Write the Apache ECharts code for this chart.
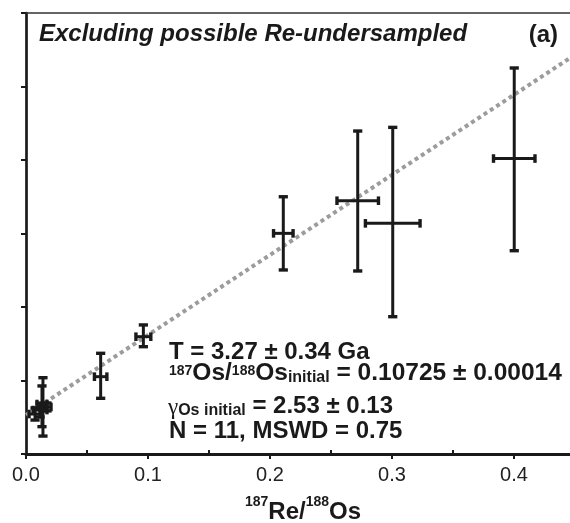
<!DOCTYPE html>
<html>
<head>
<meta charset="utf-8">
<script src="https://cdn.jsdelivr.net/npm/echarts@6/dist/echarts.min.js"></script>
<style>html,body{margin:0;padding:0;background:#fff;}#c{width:570px;height:523px;}</style>
</head>
<body>
<div id="c"></div>
<script>
// 187Re/188Os values and x errors (±)
const reX    = [0.0074, 0.0115, 0.0172, 0.0139, 0.0131, 0.0612, 0.0962, 0.2109, 0.2719, 0.3006, 0.4002];
const reXErr = [0.0049, 0.0057, 0.0033, 0.0025, 0.0041, 0.0051, 0.0061, 0.0080, 0.0170, 0.0224, 0.0170];
// 187Os/188Os values with lower / upper error limits
const osY     = [0.10772, 0.10799, 0.10820, 0.10813, 0.10840, 0.11026, 0.11298, 0.12001, 0.12223, 0.12069, 0.12510];
const osYLow  = [0.10731, 0.10752, 0.10793, 0.10622, 0.10686, 0.10879, 0.11230, 0.11752, 0.11745, 0.11434, 0.11883];
const osYHigh = [0.10813, 0.10846, 0.10847, 0.11019, 0.10963, 0.11185, 0.11378, 0.12250, 0.12697, 0.12722, 0.13126];
// isochron line end points
const lineX = [0, 0.45];
const lineY = [0.10765, 0.13216];
// axis ticks
const xTicks = [0.0, 0.1, 0.2, 0.3, 0.4];

const FONT = "'Liberation Sans', Arial, Helvetica, sans-serif";
const INK = '#1a1a1a';

const pts = reX.map((x, i) => [x, osY[i], reXErr[i], osYLow[i], osYHigh[i]]);

const chart = echarts.init(document.getElementById('c'), null, {renderer: 'canvas'});

function mainRich(size) {
  const s = size || 24;
  return {
    m: {fontFamily: FONT, fontSize: s, fontWeight: 'bold', color: INK, lineHeight: 26},
    sup: {fontFamily: FONT, fontSize: 14, fontWeight: 'bold', color: INK, height: 23, verticalAlign: 'top'},
    sub: {fontFamily: FONT, fontSize: 16, fontWeight: 'bold', color: INK, verticalAlign: 'bottom'},
    sub3: {fontFamily: FONT, fontSize: 16, fontWeight: 'bold', color: INK, verticalAlign: 'bottom'},
    g: {fontFamily: "'Liberation Serif', 'DejaVu Serif', serif", fontSize: 23, fontWeight: 'normal', color: INK, verticalAlign: 'bottom'}
  };
}

const option = {
  animation: false,
  backgroundColor: '#ffffff',
  grid: {left: 26, right: -66, top: 13, bottom: 69, containLabel: false, outerBoundsMode: 'none'},
  title: [
    {text: 'Excluding possible Re-undersampled', left: 39, top: 21, padding: 0,
     textStyle: {fontFamily: FONT, fontSize: 24, fontWeight: 'bold', fontStyle: 'italic', color: INK, lineHeight: 26}},
    {text: '(a)', right: 12, top: 22, padding: 0,
     textStyle: {fontFamily: FONT, fontSize: 24, fontWeight: 'bold', color: INK, lineHeight: 26}},
    {text: '{m|T = 3.27 ± 0.34 Ga}', left: 169, top: 339, padding: 0,
     textStyle: {rich: mainRich(24)}},
    {text: '{sup|187}{m|Os/}{sup|188}{m|Os}{sub|initial}{m| = 0.10725 ± 0.00014}', left: 169, top: 360, padding: 0,
     textStyle: {rich: mainRich(24.5)}},
    {text: '{g|γ}{sub3|Os initial}{m| = 2.53 ± 0.13}', left: 168, top: 393, padding: 0,
     textStyle: {rich: mainRich(24)}},
    {text: '{m|N = 11, MSWD = 0.75}', left: 169, top: 418, padding: 0,
     textStyle: {rich: mainRich(24)}},
    {text: '{sup|187}{m|Re/}{sup|188}{m|Os}', left: 303, top: 495, padding: 0, textAlign: 'center',
     textStyle: {rich: {
       m: {fontFamily: FONT, fontSize: 24, color: INK, lineHeight: 34},
       sup: {fontFamily: FONT, fontSize: 14, color: INK, height: 14.4, verticalAlign: 'top'}
     }}}
  ],
  xAxis: [
    {type: 'value', position: 'bottom', min: 0, max: 0.5, interval: 0.1,
     axisLine: {show: true, onZero: false, lineStyle: {color: INK, width: 3}},
     axisTick: {show: true, length: 5, lineStyle: {color: INK, width: 2}},
     minorTick: {show: false},
     splitLine: {show: false},
     axisLabel: {show: true, margin: 11, fontFamily: FONT, fontSize: 20, color: '#222',
       formatter: function (v) {
         const k = Math.round(v * 10);
         return (Math.abs(v * 10 - k) < 1e-6 && xTicks.indexOf(k / 10) >= 0) ? (k / 10).toFixed(1) : '';
       }}},
    {type: 'value', position: 'top', min: 0, max: 0.5, interval: 0.1,
     axisLine: {show: true, onZero: false, lineStyle: {color: '#333', width: 1.5}},
     axisTick: {show: false}, axisLabel: {show: false}, splitLine: {show: false}},
    {type: 'value', position: 'bottom', min: 0, max: 0.5, interval: 0.1,
     axisLine: {show: false}, axisTick: {show: false, inside: true}, axisLabel: {show: false}, splitLine: {show: false},
     minorTick: {show: true, splitNumber: 2, length: 4, lineStyle: {color: INK, width: 2}}}
  ],
  yAxis: [
    {type: 'value', min: 0.105, max: 0.135, interval: 0.005,
     axisLine: {show: true, onZero: false, lineStyle: {color: INK, width: 2.7}},
     axisTick: {show: true, length: 5, lineStyle: {color: INK, width: 2}},
     axisLabel: {show: false}, splitLine: {show: false}}
  ],
  series: [
    {type: 'line', xAxisIndex: 0, yAxisIndex: 0, z: 1,
     data: lineX.map((x, i) => [x, lineY[i]]),
     showSymbol: false, symbol: 'none', silent: true,
     lineStyle: {color: '#9c9c9c', width: 4, type: [4, 3.5], cap: 'butt'}},
    {type: 'custom', xAxisIndex: 0, yAxisIndex: 0, z: 3,
     data: pts,
     renderItem: function (params, api) {
       const x = api.value(0), y = api.value(1), xe = api.value(2), yl = api.value(3), yh = api.value(4);
       const pl = api.coord([x - xe, y]), pr = api.coord([x + xe, y]);
       const pt = api.coord([x, yh]), pb = api.coord([x, yl]);
       const cw = 4.6, ch = 4.3;
       const st = {stroke: INK, lineWidth: 3, fill: null};
       const cst = {stroke: INK, lineWidth: 3.4, fill: null};
       return {type: 'group', children: [
         {type: 'line', shape: {x1: pt[0], y1: pt[1], x2: pb[0], y2: pb[1]}, style: st},
         {type: 'line', shape: {x1: pl[0], y1: pl[1], x2: pr[0], y2: pr[1]}, style: st},
         {type: 'line', shape: {x1: pt[0] - cw, y1: pt[1], x2: pt[0] + cw, y2: pt[1]}, style: cst},
         {type: 'line', shape: {x1: pb[0] - cw, y1: pb[1], x2: pb[0] + cw, y2: pb[1]}, style: cst},
         {type: 'line', shape: {x1: pl[0], y1: pl[1] - ch, x2: pl[0], y2: pl[1] + ch}, style: cst},
         {type: 'line', shape: {x1: pr[0], y1: pr[1] - ch, x2: pr[0], y2: pr[1] + ch}, style: cst}
       ]};
     }}
  ]
};
chart.setOption(option);
</script>
</body>
</html>
